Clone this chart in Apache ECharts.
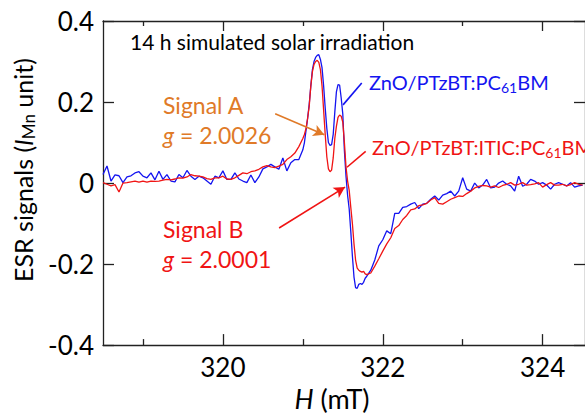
<!DOCTYPE html>
<html>
<head>
<meta charset="utf-8">
<script src="https://cdn.jsdelivr.net/npm/echarts@6/dist/echarts.min.js"></script>
<style>html,body{margin:0;padding:0;background:#fff}#c{width:585px;height:417px}</style>
</head>
<body>
<div id="c"></div>
<script>
// Magnetic field H (mT)
const field = [
318.50,318.55,318.60,318.65,318.70,318.75,318.80,318.85,318.90,318.95,
319.00,319.05,319.10,319.15,319.20,319.25,319.30,319.35,319.40,319.45,
319.50,319.55,319.60,319.65,319.70,319.75,319.80,319.85,319.90,319.95,
320.00,320.05,320.10,320.15,320.20,320.25,320.30,320.35,320.40,320.45,
320.50,320.55,320.60,320.65,320.70,320.75,320.80,320.85,320.90,320.95,
321.00,321.02,321.04,321.06,321.08,321.10,321.12,321.14,321.16,321.18,
321.20,321.22,321.24,321.26,321.28,321.30,321.32,321.34,321.36,321.38,
321.40,321.42,321.44,321.46,321.48,321.50,321.52,321.54,321.56,321.58,
321.60,321.62,321.64,321.66,321.68,321.70,321.72,321.74,321.76,321.78,
321.80,321.85,321.90,321.95,322.00,322.05,322.10,322.15,322.20,322.25,
322.30,322.35,322.40,322.45,322.50,322.55,322.60,322.65,322.70,322.75,
322.80,322.85,322.90,322.95,323.00,323.05,323.10,323.15,323.20,323.25,
323.30,323.35,323.40,323.45,323.50,323.55,323.60,323.65,323.70,323.75,
323.80,323.85,323.90,323.95,324.00,324.05,324.10,324.15,324.20,324.25,
324.30,324.35,324.40,324.45,324.50
];
// ZnO/PTzBT:PC61BM (blue)
const signalPTzBT = [
0.021,0.042,0.005,0.020,0.018,0.001,0.015,0.018,0.025,0.028,
0.017,0.013,0.025,0.008,0.029,0.009,0.021,0.005,0.003,0.021,
0.013,0.031,0.017,0.009,0.017,0.013,0.005,-0.003,0.017,0.013,
0.030,0.009,0.009,0.025,0.010,0.005,0.001,0.020,0.001,0.015,
0.035,0.040,0.046,0.040,0.034,0.062,0.030,0.050,0.058,0.058,
0.082,0.100,0.130,0.160,0.195,0.240,0.280,0.300,0.310,0.315,
0.317,0.305,0.285,0.240,0.185,0.135,0.100,0.093,0.095,0.120,
0.175,0.225,0.243,0.242,0.210,0.170,0.080,0.017,-0.030,-0.064,
-0.120,-0.180,-0.232,-0.258,-0.260,-0.250,-0.248,-0.250,-0.245,-0.235,
-0.230,-0.215,-0.190,-0.155,-0.140,-0.118,-0.125,-0.075,-0.075,-0.060,
-0.058,-0.052,-0.048,-0.063,-0.052,-0.050,-0.040,-0.032,-0.042,-0.030,
-0.026,-0.020,-0.032,-0.020,0.013,-0.015,-0.020,0.000,-0.012,-0.005,
0.009,-0.012,-0.010,0.000,0.005,-0.003,-0.007,-0.020,0.017,-0.008,
-0.003,0.009,0.005,-0.003,0.001,-0.005,-0.015,-0.003,0.001,-0.003,
-0.007,0.001,-0.010,-0.007,-0.005
];
// ZnO/PTzBT:ITIC:PC61BM (red)
const signalITIC = [
0.001,-0.003,-0.007,-0.004,-0.022,0.000,0.001,0.003,0.005,0.002,
0.005,0.002,0.005,0.004,0.005,0.007,0.009,0.008,0.010,0.013,
0.012,0.015,0.021,0.018,0.017,0.015,0.011,0.009,0.013,0.013,
0.017,0.010,0.009,0.013,0.019,0.025,0.023,0.028,0.030,0.034,
0.040,0.043,0.040,0.038,0.042,0.046,0.058,0.065,0.074,0.090,
0.110,0.120,0.135,0.160,0.190,0.240,0.275,0.293,0.300,0.303,
0.298,0.280,0.240,0.180,0.120,0.065,0.035,0.028,0.032,0.062,
0.110,0.140,0.162,0.168,0.165,0.150,0.100,0.040,0.005,-0.018,
-0.060,-0.100,-0.150,-0.190,-0.210,-0.215,-0.218,-0.220,-0.218,-0.224,
-0.226,-0.222,-0.205,-0.187,-0.168,-0.150,-0.135,-0.112,-0.105,-0.090,
-0.080,-0.066,-0.064,-0.056,-0.054,-0.050,-0.042,-0.036,-0.050,-0.052,
-0.046,-0.040,-0.036,-0.032,-0.033,-0.026,-0.020,-0.012,-0.008,-0.006,
-0.007,-0.010,-0.007,-0.011,-0.006,-0.003,0.001,-0.005,-0.003,0.001,
-0.005,-0.004,-0.002,0.001,-0.010,-0.004,0.001,-0.005,-0.005,-0.003,
-0.007,-0.004,0.001,-0.003,-0.005
];
const majorTicksX = [320, 322, 324];
const minorTicksX = [319, 321, 323];
// annotation pointers [H, value]
const arrowA = [[320.654, 0.171], [321.269, 0.119]];
const arrowB = [[320.703, -0.111], [321.528, -0.010]];
const leaderBlue = [[321.503, 0.193], [321.737, 0.247]];
const leaderRed = [[321.552, 0.039], [321.786, 0.078]];

const FONT = 'Lato';
const AX = '#222';
const BLUE = '#1414F0';
const RED = '#F01414';
const ORANGE = '#E07A28';

function xAx(pos, ticks, len, showLine, showLabel, name) {
  return {
    type: 'value', position: pos, min: 318.5, max: 324.53,
    axisLine: {show: showLine, onZero: false, lineStyle: {color: AX, width: 1.3}},
    axisTick: {show: true, inside: true, length: len, customValues: ticks, lineStyle: {color: AX, width: 1.3}},
    axisLabel: {show: showLabel, customValues: ticks, color: '#000', fontFamily: FONT, fontSize: 26, margin: 9},
    splitLine: {show: false},
    name: name || '', nameLocation: 'middle', nameGap: 37,
    nameTextStyle: {padding: [0, 24, 0, 0], rich: {
      i: {fontFamily: FONT, fontSize: 27, fontStyle: 'italic', color: '#000'},
      n: {fontFamily: FONT, fontSize: 27, color: '#000'}
    }}
  };
}
const chart = echarts.init(document.getElementById('c'), null, {renderer: 'svg'});
function pairs(xs, ys) { return xs.map((x, i) => [x, ys[i]]); }
function pointer(pts, color, arrow) {
  return {
    silent: true, symbol: arrow ? ['none', 'arrow'] : ['none', 'none'], symbolSize: [9, 11],
    lineStyle: {color: color, width: 1.6, type: 'solid'}, label: {show: false},
    data: [[{coord: pts[0]}, {coord: pts[1]}]]
  };
}
chart.setOption({
  animation: false,
  grid: {left: 103, top: 21, right: -8, bottom: 69},
  xAxis: [
    xAx('bottom', majorTicksX, 11, true, true, '{i|H}{n| (mT)}'),
    xAx('bottom', minorTicksX, 6, false, false),
    xAx('top', majorTicksX, 10, true, false),
    xAx('top', minorTicksX, 5, false, false)
  ],
  yAxis: [
    {type: 'value', position: 'left', min: -0.4, max: 0.4, interval: 0.2,
     axisLine: {show: true, onZero: false, lineStyle: {color: AX, width: 1.3}},
     axisTick: {inside: true, length: 11, lineStyle: {color: AX, width: 1.3}},
     axisLabel: {color: '#000', fontFamily: FONT, fontSize: 26, margin: 9},
     splitLine: {show: false},
     name: '{n|ESR signals (}{i|I}{s|Mn}{n| unit)}', nameLocation: 'middle', nameGap: 60,
     nameTextStyle: {padding: [0, 0, 0, 26], rich: {
       n: {fontFamily: FONT, fontSize: 25, color: '#000'},
       i: {fontFamily: FONT, fontSize: 25, fontStyle: 'italic', color: '#000'},
       s: {fontFamily: FONT, fontSize: 17, color: '#000', padding: [11, 0, 0, 0]}
     }}},
    {type: 'value', position: 'right', min: -0.4, max: 0.4, interval: 0.2,
     axisLine: {show: true, onZero: false, lineStyle: {color: AX, width: 1.3}},
     axisTick: {inside: true, length: 11, lineStyle: {color: AX, width: 1.3}},
     axisLabel: {show: false}, splitLine: {show: false}}
  ],
  series: [
    {type: 'line', name: 'ZnO/PTzBT:PC61BM', data: pairs(field, signalPTzBT), showSymbol: false,
     lineStyle: {color: BLUE, width: 1.3}, itemStyle: {color: BLUE},
     markLine: pointer(leaderBlue, BLUE, false)},
    {type: 'line', name: 'ZnO/PTzBT:ITIC:PC61BM', data: pairs(field, signalITIC), showSymbol: false,
     lineStyle: {color: RED, width: 1.3}, itemStyle: {color: RED},
     markLine: {silent: true, symbol: ['none', 'none'], lineStyle: {color: RED, width: 1.6, type: 'solid'}, label: {show: false},
       data: [
         [{coord: leaderRed[0]}, {coord: leaderRed[1]}],
         [{coord: arrowB[0], symbol: 'none'}, {coord: arrowB[1], symbol: 'arrow', symbolSize: [9, 11]}]
       ]}},
    {type: 'line', data: [], markLine: pointer(arrowA, ORANGE, true)}
  ],
  graphic: [
    {type: 'text', left: 130, top: 31, style: {text: '14 h simulated solar irradiation', fontFamily: FONT, fontSize: 21, fill: '#000'}},
    {type: 'text', left: 163, top: 93, style: {text: 'Signal A', fontFamily: FONT, fontSize: 23, fill: ORANGE}},
    {type: 'text', left: 163, top: 123, style: {text: '{i|g} = 2.0026', fontFamily: FONT, fontSize: 23, fill: ORANGE,
      rich: {i: {fontFamily: FONT, fontSize: 23, fontStyle: 'italic', fill: ORANGE}}}},
    {type: 'text', left: 163, top: 217, style: {text: 'Signal B', fontFamily: FONT, fontSize: 23, fill: RED}},
    {type: 'text', left: 163, top: 247, style: {text: '{i|g} = 2.0001', fontFamily: FONT, fontSize: 23, fill: RED,
      rich: {i: {fontFamily: FONT, fontSize: 23, fontStyle: 'italic', fill: RED}}}},
    {type: 'text', left: 369, top: 72, style: {text: 'ZnO/PTzBT:PC{s|61}BM', fontFamily: FONT, fontSize: 20, fill: BLUE,
      rich: {s: {fontFamily: FONT, fontSize: 14, fill: BLUE, padding: [10, 0, 0, 0]}}}},
    {type: 'text', left: 372, top: 137, style: {text: 'ZnO/PTzBT:ITIC:PC{s|61}BM', fontFamily: FONT, fontSize: 20, fill: RED,
      rich: {s: {fontFamily: FONT, fontSize: 14, fill: RED, padding: [10, 0, 0, 0]}}}}
  ]
});
</script>
</body>
</html>
